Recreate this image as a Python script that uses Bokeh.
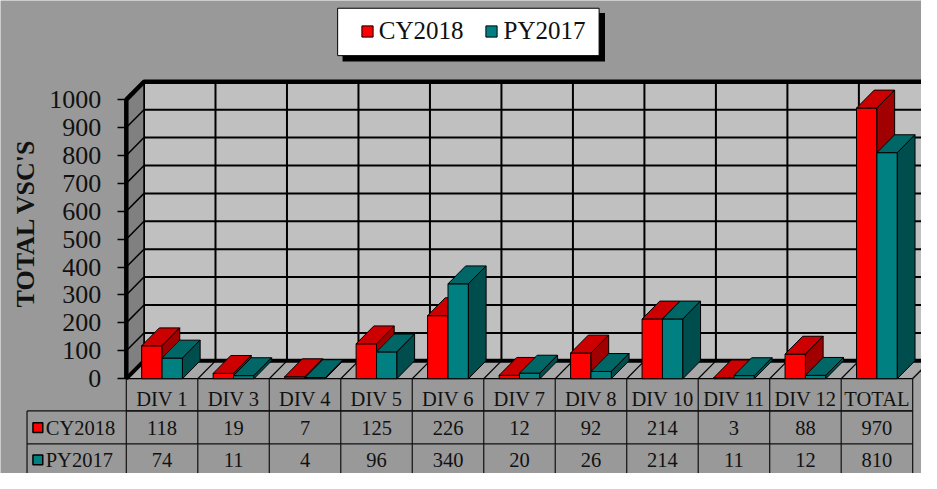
import numpy as np
from bokeh.plotting import figure
from bokeh.models import Range1d, LinearAxis, FixedTicker, Legend, LegendItem
from bokeh.embed import file_html
from bokeh.resources import INLINE
from bokeh.core.properties import value

# ---------------- data ----------------
categories = ["DIV 1", "DIV 3", "DIV 4", "DIV 5", "DIV 6", "DIV 7",
              "DIV 8", "DIV 10", "DIV 11", "DIV 12", "TOTAL"]
cy2018 = [118, 19, 7, 125, 226, 12, 92, 214, 3, 88, 970]
py2017 = [74, 11, 4, 96, 340, 20, 26, 214, 11, 12, 810]
series_names = ["CY2018", "PY2017"]
y_ticks = [0, 100, 200, 300, 400, 500, 600, 700, 800, 900, 1000]
y_title = "TOTAL VSC'S"

# ---------------- geometry (reference picture pixels -> data) ----------------
W, H = 921, 473
REF_W, REF_H = 937, 489
X0_REF, CAT_PX = 164.36, 72.73      # centre of first category, px per category
Y0_REF, VAL_PX = 391.0, 0.2885      # y pixel of value 0, px per unit


def rx(px):
    return (px - X0_REF) / CAT_PX


def ry(py):
    return (Y0_REF - py) / VAL_PX


DX = 18.0 / CAT_PX
DY = 18.5 / VAL_PX
YMAX = y_ticks[-1]
n = len(categories)
xc = np.arange(n)
left_edge = -0.5
right_edge = n - 0.5
BW = 20.75 / CAT_PX

SERIF = "Liberation Serif"
BG = "#999999"

p = figure(width=W, height=H, output_backend="svg", toolbar_location=None,
           x_range=Range1d(rx(0), rx(REF_W)), y_range=Range1d(ry(REF_H), ry(0)),
           x_axis_location=None, y_axis_location=None, min_border=0)
p.background_fill_color = BG
p.border_fill_color = BG
p.outline_line_color = None
p.grid.visible = False

# ---------------- walls ----------------
p.patch([left_edge + DX, right_edge + DX, right_edge + DX, left_edge + DX],
        [DY, DY, YMAX + DY, YMAX + DY], fill_color="#C0C0C0", line_color=None)
p.segment(x0=[left_edge + DX] * len(y_ticks), y0=[t + DY for t in y_ticks],
          x1=[right_edge + DX] * len(y_ticks), y1=[t + DY for t in y_ticks],
          line_color="black", line_width=2)
bnds = [left_edge + k for k in range(n + 1)]
p.segment(x0=[b + DX for b in bnds], y0=[DY] * len(bnds),
          x1=[b + DX for b in bnds], y1=[YMAX + DY] * len(bnds),
          line_color="black", line_width=2)
p.patch([left_edge, left_edge + DX, left_edge + DX, left_edge],
        [0, DY, YMAX + DY, YMAX], fill_color="#808080", line_color="black", line_width=1.5)
p.segment(x0=[left_edge] * len(y_ticks), y0=y_ticks,
          x1=[left_edge + DX] * len(y_ticks), y1=[t + DY for t in y_ticks],
          line_color="black", line_width=1.5)
p.patch([left_edge, right_edge, right_edge + DX, left_edge + DX],
        [0, 0, DY, DY], fill_color="#A8A8A8", line_color="black", line_width=1.2)
p.segment(x0=bnds, y0=[0] * len(bnds), x1=[b + DX for b in bnds], y1=[DY] * len(bnds),
          line_color="black", line_width=1.2)
p.line([left_edge + DX, right_edge + DX], [DY, DY], line_color="black", line_width=4)
p.line([left_edge, left_edge + DX], [0, DY], line_color="black", line_width=4)
p.line([left_edge, left_edge, left_edge + DX, right_edge + DX],
       [0, YMAX, YMAX + DY, YMAX + DY], line_color="black", line_width=4.5)

# ---------------- 3D bars ----------------
def faces(x0s, x1s, vals):
    front_x, front_y, top_x, top_y, side_x, side_y = [], [], [], [], [], []
    for a, b, v in zip(x0s, x1s, vals):
        front_x.append([a, b, b, a]); front_y.append([0, 0, v, v])
        top_x.append([a, b, b + DX, a + DX]); top_y.append([v, v, v + DY, v + DY])
        side_x.append([b, b + DX, b + DX, b]); side_y.append([0, DY, v + DY, v])
    return front_x, front_y, top_x, top_y, side_x, side_y


front_renderers = []
for vals, x0s, cols in [(cy2018, xc - BW, ("#FF0000", "#CC0000", "#A00000")),
                        (py2017, xc, ("#008080", "#006666", "#004D4D"))]:
    fx, fy, tx, ty, sx, sy = faces(x0s, x0s + BW, vals)
    r = p.patches(fx, fy, fill_color=cols[0], line_color="black", line_width=1)
    p.patches(tx, ty, fill_color=cols[1], line_color="black", line_width=1)
    p.patches(sx, sy, fill_color=cols[2], line_color="black", line_width=1)
    front_renderers.append(r)

# ---------------- data table ----------------
row1_bot, row2_bot, row3_bot = ry(424.3), ry(458.3), ry(493)
leg_left = rx(27)
p.patch([right_edge, right_edge + DX, right_edge + DX, right_edge],
        [0, DY, row3_bot, row3_bot], fill_color="#A3A3A3", line_color=None)
p.segment(x0=bnds, y0=[0] * len(bnds), x1=bnds, y1=[row3_bot] * len(bnds),
          line_color="#111111", line_width=1.2)
p.segment(x0=[left_edge, leg_left, leg_left, leg_left], y0=[row1_bot, row1_bot, row2_bot, row1_bot],
          x1=[right_edge, right_edge, right_edge, leg_left], y1=[row1_bot, row1_bot, row2_bot, row3_bot],
          line_color="#111111", line_width=1.2)
p.line([right_edge, right_edge + DX], [0, DY], line_color="#111111", line_width=1.2)

TABLE_FONT = "20.5px"
row_centres = [ry(441.5), ry(475.0)]
for vals, yc in zip([cy2018, py2017], row_centres):
    p.text(x=list(xc), y=[yc] * n, text=[str(v) for v in vals],
           text_font=value(SERIF), text_font_size=TABLE_FONT, text_color="#111111",
           text_align="center", text_baseline="middle")
p.text(x=[rx(46)] * 2, y=row_centres, text=series_names, text_font=value(SERIF),
       text_font_size=TABLE_FONT, text_color="#111111", text_align="left", text_baseline="middle")
for yc, col in zip(row_centres, ["#FF0000", "#008080"]):
    p.quad(left=rx(33), right=rx(43), bottom=yc - 5 / VAL_PX, top=yc + 5 / VAL_PX,
           fill_color=col, line_color="black", line_width=1.5)

# ---------------- axes ----------------
yaxis = LinearAxis(fixed_location=left_edge, ticker=FixedTicker(ticks=y_ticks))
yaxis.axis_line_color = None
yaxis.major_tick_out = 9
yaxis.major_tick_in = 0
yaxis.minor_tick_line_color = None
yaxis.major_tick_line_color = "black"
yaxis.major_tick_line_width = 1.5
yaxis.major_label_standoff = 16
yaxis.major_label_text_font = SERIF
yaxis.major_label_text_font_size = "26px"
yaxis.major_label_text_color = "#111111"
p.add_layout(yaxis, "left")

xaxis = LinearAxis(fixed_location=0, ticker=FixedTicker(ticks=list(xc)),
                   major_label_overrides={int(i): c for i, c in zip(xc, categories)})
xaxis.axis_line_color = None
xaxis.major_tick_line_color = None
xaxis.minor_tick_line_color = None
xaxis.major_tick_out = 0
xaxis.major_tick_in = 0
xaxis.major_label_standoff = 9
xaxis.major_label_text_font = SERIF
xaxis.major_label_text_font_size = TABLE_FONT
xaxis.major_label_text_color = "#111111"
p.add_layout(xaxis, "below")

p.text(x=[rx(25)], y=[ry(230)], text=[y_title], angle=np.pi / 2,
       text_font=value(SERIF), text_font_size="26px", text_font_style="bold",
       text_color="#111111", text_align="center", text_baseline="middle")

# ---------------- legend ----------------
p.quad(left=rx(348), right=rx(615), top=ry(13), bottom=ry(63), fill_color="black", line_color=None)
p.quad(left=rx(343), right=rx(609), top=ry(8), bottom=ry(57), fill_color="white",
       line_color="black", line_width=1)
legend = Legend(items=[LegendItem(label=s, renderers=[r]) for s, r in zip(series_names, front_renderers)],
                orientation="horizontal", location=(366 * W / REF_W, H - (32.5 * H / REF_H + 13.8)),
                padding=0, margin=0, spacing=21, glyph_width=14, glyph_height=14, label_standoff=5,
                border_line_alpha=0, background_fill_alpha=0,
                label_text_font=SERIF, label_text_font_size="25px", label_text_color="#111111")
p.add_layout(legend)

open("out.html", "w").write(file_html(p, INLINE))
